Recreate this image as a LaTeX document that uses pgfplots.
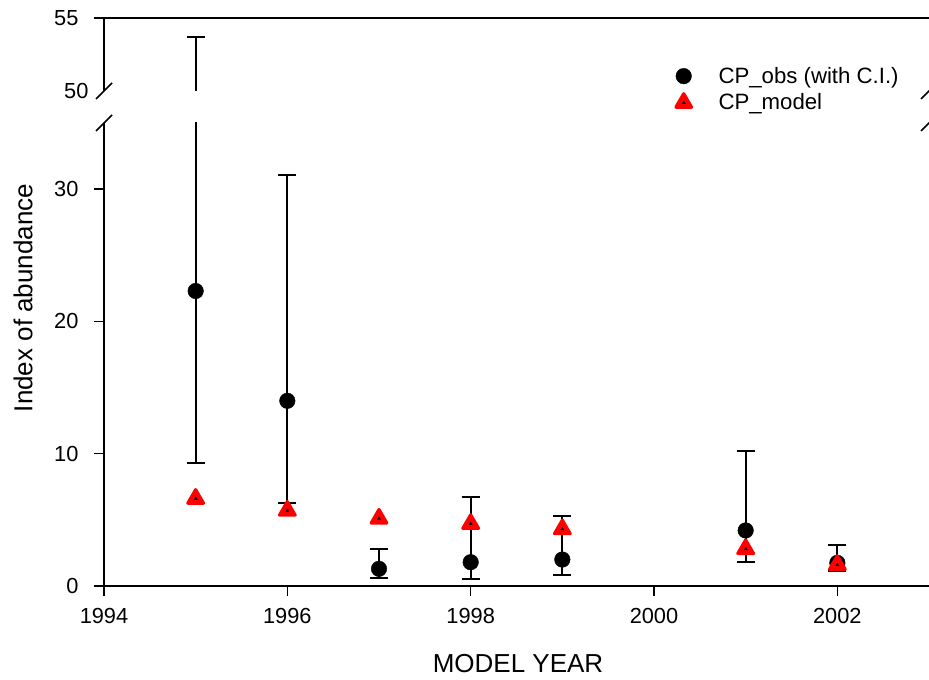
\documentclass[border=0pt]{standalone}
\usepackage{pgfplots}
\pgfplotsset{compat=1.18}
\usepackage{pgfplotstable}
\usepackage{fontspec}
\setmainfont{Liberation Sans}

\pgfdeclareplotmark{cptri}{%
  \pgfsetlinewidth{3.2pt}\pgfsetroundjoin
  \pgfsetfillcolor{red}\pgfsetstrokecolor{red}%
  \pgfpathmoveto{\pgfqpointpolar{90}{\pgfplotmarksize}}%
  \pgfpathlineto{\pgfqpointpolar{210}{\pgfplotmarksize}}%
  \pgfpathlineto{\pgfqpointpolar{330}{\pgfplotmarksize}}%
  \pgfpathclose
  \pgfusepathqfillstroke
  \pgfsetfillcolor{black}%
  \pgfpathmoveto{\pgfqpointpolar{90}{2.2pt}}%
  \pgfpathlineto{\pgfqpointpolar{210}{2.2pt}}%
  \pgfpathlineto{\pgfqpointpolar{330}{2.2pt}}%
  \pgfpathclose
  \pgfusepathqfill
}

\pgfplotstableread{
x y ep em
1995 22.3 31.4 13.0
1996 14.0 17.1 7.7
1997 1.3 1.5 0.7
1998 1.8 4.9 1.3
1999 2.0 3.3 1.2
2001 4.2 6.0 2.4
2002 1.75 1.35 0.6
}\obs

\pgfplotstableread{
x y
1995 6.6
1996 5.7
1997 5.1
1998 4.7
1999 4.3
2001 2.8
2002 1.6
}\model

\pgfplotstableread{
x y ep em
1995 22.3 31.4 13.0
}\obstop

\pgfplotsset{
  cpbase/.style={
    scale only axis, width=825pt,
    xmin=1994, xmax=2003,
    axis line style={line width=1.5pt, black},
    tick style={line width=1.5pt, black},
    tick align=outside, major tick length=10pt,
    every tick label/.append style={font=\fontsize{21.8}{24}\selectfont},
    every y tick label/.append style={anchor=east, xshift=-12pt},
    every x tick label/.append style={anchor=north, yshift=-9pt},
    /pgf/number format/assume math mode=true,
    /pgf/number format/1000 sep={},
    clip=true,
  },
  ebars/.style={error bars/.cd, y dir=both, y explicit,
    error bar style={line width=2pt, black},
    error mark options={rotate=90, mark size=9pt, line width=2pt, black}},
}

\begin{document}
\begin{tikzpicture}
\useasboundingbox (-104pt,-94pt) rectangle (825pt,586pt);

\begin{axis}[cpbase, name=lower, at={(0pt,0pt)}, anchor=south west,
  height=463pt, ymin=0, ymax=35, ytick={0,10,20,30},
  xtick={1994,1996,1998,2000,2002},
  axis x line*=bottom, axis y line*=left,
  legend style={at={(axis description cs:0.693,1.125)}, anchor=north west,
    draw=none, fill=none, font=\fontsize{22.2}{25}\selectfont,
    inner sep=0pt, row sep=5pt, column sep=25pt, nodes={inner sep=2pt}, cells={anchor=west}},
]
\addplot[black, only marks, mark=*, mark size=7.8pt, ebars]
  table[x=x, y=y, y error plus=ep, y error minus=em]{\obs};
\addlegendentry{CP\_obs (with C.I.)}
\addplot[red, only marks, mark=cptri, mark size=9pt]
  table[x=x, y=y]{\model};
\addlegendentry{CP\_model}
\end{axis}

\begin{axis}[cpbase, name=upper, at={(0pt,495pt)}, anchor=south west,
  height=73pt, ymin=50, ymax=55, ytick={55}, xtick=\empty,
  extra y ticks={50}, extra tick style={major tick length=0pt},
  axis x line*=top, axis y line*=left,
]
\addplot[black, mark=none, forget plot, ebars]
  table[x=x, y=y, y error plus=ep, y error minus=em]{\obstop};
\end{axis}

\draw[line width=1.5pt] ([shift={(-8pt,-8pt)}]lower.north west) -- ++(16pt,16pt);
\draw[line width=1.5pt] ([shift={(-8pt,-8pt)}]upper.south west) -- ++(16pt,16pt);
\draw[line width=1.5pt] ([shift={(-8pt,-8pt)}]lower.north east) -- ++(16pt,16pt);
\draw[line width=1.5pt] ([shift={(-8pt,-8pt)}]upper.south east) -- ++(16pt,16pt);

\node[rotate=90, font=\fontsize{26}{30}\selectfont] at (-81pt,288pt) {Index of abundance};
\node[font=\fontsize{26}{30}\selectfont] at (414pt,-78pt) {MODEL YEAR};
\end{tikzpicture}
\end{document}
